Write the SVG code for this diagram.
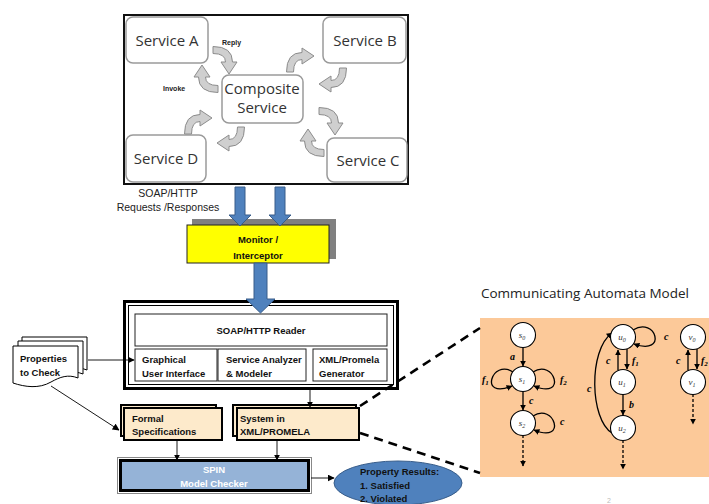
<svg xmlns="http://www.w3.org/2000/svg" xmlns:xlink="http://www.w3.org/1999/xlink" width="709" height="504" viewBox="0 0 709 504">
  <style>
    .svc { fill: #ffffff; stroke: #9a9a9a; stroke-width: 1.5; }
    .svct { font-family: "Open Sans", "Liberation Sans", sans-serif; font-size: 15px; fill: #333; text-anchor: middle; }
    .tiny { font-family: "Liberation Sans", sans-serif; font-size: 7px; font-weight: bold; fill: #222; }
    .lbl { font-family: "Liberation Sans", sans-serif; font-size: 9.5px; font-weight: bold; fill: #111; }
    .plain { font-family: "Liberation Sans", sans-serif; font-size: 10.5px; fill: #222; text-anchor: middle; }
    .box { fill: #ffffff; stroke: #222; stroke-width: 1; }
    .doc { fill: #fdeacb; stroke: #000; stroke-width: 2; }
    .blue { fill: #4f81bd; stroke: #385d8a; stroke-width: 1; }
    .gray { fill: #cfcfcf; stroke: #8c8c8c; stroke-width: 1; }
    .thin { fill: none; stroke: #000; stroke-width: 0.9; }
    .dash { fill: none; stroke: #000; stroke-width: 2.6; stroke-dasharray: 9 6; }
    .st { fill: #ffffff; stroke: #000; stroke-width: 1.1; }
    .stt { font-family: "Liberation Serif", serif; font-style: italic; font-size: 9px; fill: #333; text-anchor: middle; }
    .edge { fill: none; stroke: #000; stroke-width: 1.3; }
    .edt { font-family: "Liberation Serif", serif; font-style: italic; font-weight: bold; font-size: 10px; fill: #000; }
  </style>
  <defs>
    <marker id="ah" viewBox="0 0 10 10" refX="9" refY="5" markerWidth="7" markerHeight="7" markerUnits="userSpaceOnUse" orient="auto">
      <path d="M0,0 L10,5 L0,10 Z" fill="#000"/>
    </marker>
    <marker id="ah2" viewBox="0 0 10 10" refX="9" refY="5" markerWidth="6" markerHeight="6" markerUnits="userSpaceOnUse" orient="auto">
      <path d="M0,0 L10,5 L0,10 Z" fill="#000"/>
    </marker>
    <!-- bent block arrow: heads right, turns down, head points down -->
    <path id="carrow" d="M0,-3.5 Q19.5,-3.5 19.5,12 L24,12 L16,24 L8,12 L12.5,12 Q12.5,3.5 0,3.5 Z"/>
  </defs>

  <!-- service composition frame -->
  <g id="composition">
    <rect x="124" y="15" width="284" height="169" fill="#ffffff" stroke="#111" stroke-width="2"/>
    <g id="service-a"><rect class="svc" x="126" y="17" width="82" height="46" rx="7"/><text class="svct" x="167" y="46">Service A</text></g>
    <g id="service-b"><rect class="svc" x="323" y="17" width="83" height="46" rx="7"/><text class="svct" x="365" y="46">Service B</text></g>
    <g id="composite"><rect class="svc" x="222" y="75" width="81" height="48" rx="7"/><text class="svct" x="262" y="94" font-size="14">Composite</text><text class="svct" x="262" y="113" font-size="14">Service</text></g>
    <g id="service-d"><rect class="svc" x="126" y="135" width="80" height="47" rx="7"/><text class="svct" x="166" y="164">Service D</text></g>
    <g id="service-c"><rect class="svc" x="327" y="138" width="80" height="44" rx="7"/><text class="svct" x="368" y="166">Service C</text></g>
    <g id="flow-arrows">
      <use xlink:href="#carrow" class="gray" transform="translate(213,50)"/>
      <use xlink:href="#carrow" class="gray" transform="translate(218,89) rotate(180)"/>
      <use xlink:href="#carrow" class="gray" transform="matrix(0,-1,1,0,290,72)"/>
      <use xlink:href="#carrow" class="gray" transform="matrix(0,1,-1,0,343,68)"/>
      <use xlink:href="#carrow" class="gray" transform="translate(319,111)"/>
      <use xlink:href="#carrow" class="gray" transform="translate(324,153) rotate(180)"/>
      <use xlink:href="#carrow" class="gray" transform="matrix(0,-1,1,0,188,134)"/>
      <use xlink:href="#carrow" class="gray" transform="matrix(0,1,-1,0,241,127)"/>
    </g>
    <text class="tiny" x="222" y="45">Reply</text>
    <text class="tiny" x="163" y="91">Invoke</text>
  </g>

  <text class="plain" x="168" y="197">SOAP/HTTP</text>
  <text class="plain" x="168" y="211">Requests /Responses</text>

  <!-- monitor -->
  <g id="monitor">
    <rect x="192" y="219" width="144" height="40" fill="#808080"/>
    <rect x="187" y="225" width="142" height="38" fill="#ffff00" stroke="#222" stroke-width="1"/>
    <text class="lbl" x="258" y="243" text-anchor="middle" font-size="10.5">Monitor /</text>
    <text class="lbl" x="258" y="259" text-anchor="middle" font-size="10.5">Interceptor</text>
  </g>

  <!-- analysis tool -->
  <g id="tool">
    <rect x="124.5" y="301.5" width="273" height="87" fill="#ffffff" stroke="#000" stroke-width="3"/>
    <rect x="128.5" y="305.5" width="265" height="79" fill="none" stroke="#000" stroke-width="1"/>
    <g id="reader"><rect class="box" x="135" y="314" width="252" height="32"/><text class="lbl" x="261" y="334" text-anchor="middle">SOAP/HTTP Reader</text></g>
    <g id="gui"><rect class="box" x="135" y="349" width="82" height="32"/><text class="lbl" x="142" y="363">Graphical</text><text class="lbl" x="142" y="377">User Interface</text></g>
    <g id="analyzer"><rect class="box" x="218" y="349" width="88" height="32"/><text class="lbl" x="226" y="363">Service Analyzer</text><text class="lbl" x="226" y="377">&amp; Modeler</text></g>
    <g id="generator"><rect class="box" x="313" y="349" width="74" height="32"/><text class="lbl" x="319" y="363">XML/Promela</text><text class="lbl" x="319" y="377">Generator</text></g>
  </g>

  <!-- properties document stack -->
  <g id="properties">
    <path d="M22,337 H87 V370 C77,366 69,369 60,374 C48,381 34,379 22,375 Z" fill="#fff" stroke="#000" stroke-width="1"/>
    <path d="M18,341 H83 V374 C73,370 65,373 56,378 C44,385 30,383 18,379 Z" fill="#fff" stroke="#000" stroke-width="1"/>
    <path d="M13,346 H78 V378 C68,374 60,377 51,382 C39,389 25,387 13,383 Z" fill="#fff" stroke="#000" stroke-width="1"/>
    <text class="lbl" x="20" y="362">Properties</text>
    <text class="lbl" x="20" y="376">to Check</text>
  </g>

  <g id="formal">
    <rect class="doc" x="121" y="405" width="95" height="31"/>
    <rect class="doc" x="124" y="408" width="98" height="32"/>
    <text class="lbl" x="132" y="422">Formal</text>
    <text class="lbl" x="132" y="435">Specifications</text>
  </g>
  <g id="system">
    <rect class="doc" x="233" y="405" width="123" height="31"/>
    <rect class="doc" x="237" y="408" width="122" height="32"/>
    <text class="lbl" x="240" y="422">System in</text>
    <text class="lbl" x="240" y="435">XML/PROMELA</text>
  </g>

  <g id="spin">
    <rect x="117.5" y="457.5" width="194" height="36" fill="none" stroke="#888" stroke-width="1"/>
    <rect x="120.5" y="460.5" width="188" height="30" fill="#95b3d7" stroke="#000" stroke-width="3"/>
    <text class="lbl" x="214" y="473" text-anchor="middle" style="fill:#fff">SPIN</text>
    <text class="lbl" x="214" y="487" text-anchor="middle" style="fill:#fff">Model Checker</text>
  </g>

  <g id="results">
    <ellipse class="blue" cx="398" cy="483" rx="64" ry="22"/>
    <text class="lbl" x="360" y="475" font-size="10">Property Results:</text>
    <text class="lbl" x="360" y="489" font-size="10">1. Satisfied</text>
    <text class="lbl" x="360" y="502" font-size="10">2. Violated</text>
  </g>

  <!-- communicating automata -->
  <text x="585" y="298" font-family="Open Sans, Liberation Sans, sans-serif" font-size="13.5" fill="#222" text-anchor="middle">Communicating Automata Model</text>
  <g id="automata">
    <rect x="480" y="318" width="229" height="159" fill="#fcc999"/>
    <!-- edges -->
    <line class="edge" x1="523" y1="347" x2="523" y2="366" marker-end="url(#ah2)"/>
    <path class="edge" d="M513,372 C492,358 478,400 512,386" marker-end="url(#ah2)"/>
    <path class="edge" d="M533,372 C554,358 568,400 534,386" marker-end="url(#ah2)"/>
    <line class="edge" x1="523" y1="391" x2="523" y2="410" marker-end="url(#ah2)"/>
    <path class="edge" d="M533,416 C554,402 568,444 534,430" marker-end="url(#ah2)"/>
    <line class="edge" x1="523" y1="435" x2="523" y2="466" stroke-dasharray="3 2" marker-end="url(#ah2)"/>

    <path class="edge" d="M633,330 C656,316 668,356 634,344" marker-end="url(#ah2)"/>
    <line class="edge" x1="627" y1="349" x2="627" y2="369" marker-end="url(#ah2)"/>
    <line class="edge" x1="618" y1="370" x2="618" y2="350" marker-end="url(#ah2)"/>
    <line class="edge" x1="623" y1="394" x2="623" y2="415" marker-end="url(#ah2)"/>
    <path class="edge" d="M612,433 C590,420 588,350 612,333" marker-end="url(#ah2)"/>
    <line class="edge" x1="623" y1="440" x2="623" y2="469" stroke-dasharray="3 2" marker-end="url(#ah2)"/>

    <line class="edge" x1="688" y1="370" x2="688" y2="350" marker-end="url(#ah2)"/>
    <line class="edge" x1="697" y1="349" x2="697" y2="369" marker-end="url(#ah2)"/>
    <line class="edge" x1="693" y1="394" x2="693" y2="424" stroke-dasharray="3 2" marker-end="url(#ah2)"/>

    <!-- states -->
    <g id="s0"><circle class="st" cx="523" cy="335" r="12.5"/><text class="stt" x="522" y="338">s<tspan font-size="6" dy="2">0</tspan></text></g>
    <g id="s1"><circle class="st" cx="523" cy="379" r="12.5"/><text class="stt" x="522" y="382">s<tspan font-size="6" dy="2">1</tspan></text></g>
    <g id="s2"><circle class="st" cx="523" cy="423" r="12.5"/><text class="stt" x="522" y="426">s<tspan font-size="6" dy="2">2</tspan></text></g>
    <g id="u0"><circle class="st" cx="623" cy="337" r="12.5"/><text class="stt" x="622" y="340">u<tspan font-size="6" dy="2">0</tspan></text></g>
    <g id="u1"><circle class="st" cx="623" cy="382" r="12.5"/><text class="stt" x="622" y="385">u<tspan font-size="6" dy="2">1</tspan></text></g>
    <g id="u2"><circle class="st" cx="623" cy="428" r="12.5"/><text class="stt" x="622" y="431">u<tspan font-size="6" dy="2">2</tspan></text></g>
    <g id="v0"><circle class="st" cx="693" cy="337" r="12.5"/><text class="stt" x="692" y="340">v<tspan font-size="6" dy="2">0</tspan></text></g>
    <g id="v1"><circle class="st" cx="693" cy="382" r="12.5"/><text class="stt" x="692" y="385">v<tspan font-size="6" dy="2">1</tspan></text></g>

    <!-- edge labels -->
    <text class="edt" x="510" y="360">a</text>
    <text class="edt" x="482" y="383">f<tspan font-size="7" dy="2">1</tspan></text>
    <text class="edt" x="560" y="383">f<tspan font-size="7" dy="2">2</tspan></text>
    <text class="edt" x="529" y="404">c</text>
    <text class="edt" x="560" y="425">c</text>
    <text class="edt" x="664" y="340">c</text>
    <text class="edt" x="606" y="364">c</text>
    <text class="edt" x="632" y="364">f<tspan font-size="7" dy="2">1</tspan></text>
    <text class="edt" x="629" y="408">b</text>
    <text class="edt" x="587" y="392">c</text>
    <text class="edt" x="676" y="364">c</text>
    <text class="edt" x="701" y="364">f<tspan font-size="7" dy="2">2</tspan></text>
  </g>

  <g id="connectors">
    <!-- block arrows -->
    <path class="blue" d="M235,187 H245 V215 H251 L240,226 L229,215 H235 Z"/>
    <path class="blue" d="M275,187 H285 V215 H291 L280,226 L269,215 H275 Z"/>
    <path class="blue" d="M254,263 H267 V299 H275 L260.5,313 L246,299 H254 Z"/>
    <!-- thin arrows -->
    <line class="thin" x1="88" y1="360" x2="134" y2="360" marker-end="url(#ah)"/>
    <line class="thin" x1="51" y1="386" x2="119" y2="430" marker-end="url(#ah)"/>
    <line class="thin" x1="310" y1="389" x2="310" y2="407" marker-end="url(#ah2)"/>
    <line class="thin" x1="177" y1="440" x2="177" y2="460" marker-end="url(#ah2)"/>
    <line class="thin" x1="277" y1="440" x2="277" y2="460" marker-end="url(#ah2)"/>
    <line class="thin" x1="311" y1="478" x2="334" y2="478" marker-end="url(#ah)"/>
    <!-- dashed zoom lines -->
    <line class="dash" x1="360" y1="406" x2="480" y2="328"/>
    <line class="dash" x1="360" y1="433" x2="480" y2="473"/>
  </g>

  <text x="607" y="503" font-family="Liberation Sans, sans-serif" font-size="7" fill="#bbbbbb">2</text>
</svg>
